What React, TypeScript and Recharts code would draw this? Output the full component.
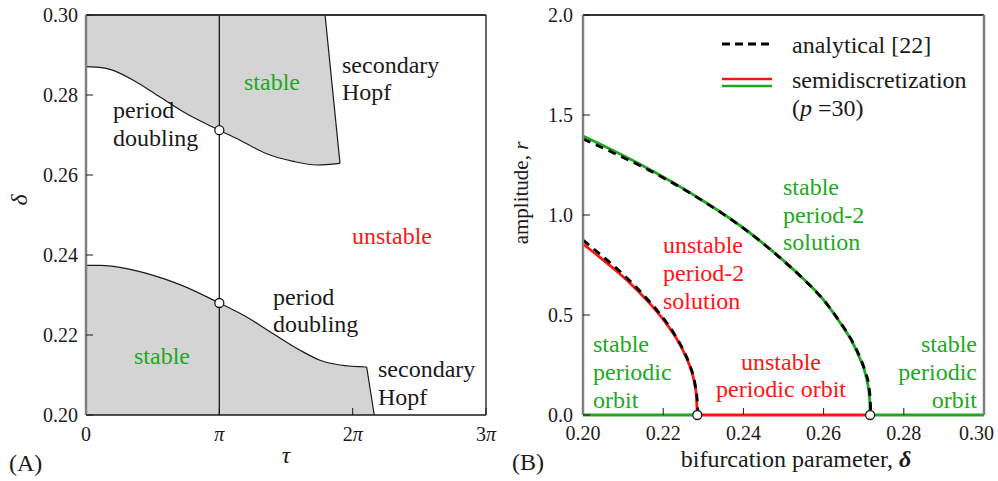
import { Area, ComposedChart, Line, ReferenceDot, ReferenceLine, XAxis, YAxis } from 'recharts'

const FONT = "'Liberation Serif', 'DejaVu Serif', serif"
const GREEN = '#1ea81e'
const RED = '#ff1414'
const GRAY_FILL = '#d4d4d4'
const AXIS_GRAY = '#7f7f7f'
const INK = '#1a1a1a'

// ---- panel A: stability chart in the (tau, delta) plane, tau in units of pi
const tauTicks = [0, 1, 2, 3]
const deltaTicks = [0.2, 0.22, 0.24, 0.26, 0.28, 0.3]

const upperCurve = [
  { tau: 0, delta: 0.2871 }, { tau: 0.1, delta: 0.2869 }, { tau: 0.18, delta: 0.2864 },
  { tau: 0.355, delta: 0.2837 }, { tau: 0.555, delta: 0.2795 }, { tau: 0.755, delta: 0.2753 },
  { tau: 1.0, delta: 0.2712 }, { tau: 1.155, delta: 0.2687 }, { tau: 1.355, delta: 0.2653 },
  { tau: 1.555, delta: 0.2634 }, { tau: 1.73, delta: 0.2625 }, { tau: 1.905, delta: 0.2629 },
]
const upperHopf = [{ tau: 1.905, delta: 0.2629 }, { tau: 1.793, delta: 0.3 }]
const upperRegion = [
  ...upperCurve.filter((p) => p.tau <= 1.73).map((p) => ({ tau: p.tau, band: [p.delta, 0.3] })),
  { tau: 1.793, band: [0.2626, 0.3] },
  { tau: 1.905, band: [0.2629, 0.2629] },
]

const lowerCurve = [
  { tau: 0, delta: 0.2374 }, { tau: 0.105, delta: 0.2374 }, { tau: 0.305, delta: 0.2366 },
  { tau: 0.505, delta: 0.2349 }, { tau: 0.705, delta: 0.2326 }, { tau: 1.0, delta: 0.228 },
  { tau: 1.205, delta: 0.2245 }, { tau: 1.405, delta: 0.2203 }, { tau: 1.605, delta: 0.2162 },
  { tau: 1.755, delta: 0.2137 }, { tau: 1.905, delta: 0.2125 }, { tau: 2.105, delta: 0.212 },
]
const lowerHopf = [{ tau: 2.105, delta: 0.212 }, { tau: 2.162, delta: 0.2 }]
const lowerRegion = [
  ...lowerCurve.map((p) => ({ tau: p.tau, band: [0.2, p.delta] })),
  { tau: 2.162, band: [0.2, 0.2] },
]
const periodDoublingPoints = [{ tau: 1, delta: 0.2712 }, { tau: 1, delta: 0.228 }]

// ---- panel B: bifurcation diagram, amplitude r vs delta
const deltaTicksB = [0.2, 0.22, 0.24, 0.26, 0.28, 0.3]
const rTicks = [0, 0.5, 1, 1.5, 2]

const unstableP2 = [
  { d: 0.2, r: 0.855 }, { d: 0.204, r: 0.792 }, { d: 0.208, r: 0.726 }, { d: 0.212, r: 0.654 },
  { d: 0.216, r: 0.572 }, { d: 0.22, r: 0.478 }, { d: 0.223, r: 0.392 }, { d: 0.225, r: 0.32 },
  { d: 0.2265, r: 0.252 }, { d: 0.2275, r: 0.188 }, { d: 0.228, r: 0.14 }, { d: 0.2283, r: 0.09 },
  { d: 0.2285, r: 0 },
]
const unstableP2Analytic = [
  { d: 0.2, r: 0.875 }, { d: 0.204, r: 0.808 }, { d: 0.208, r: 0.74 }, { d: 0.212, r: 0.665 },
  { d: 0.216, r: 0.58 }, { d: 0.22, r: 0.485 }, { d: 0.223, r: 0.398 }, { d: 0.225, r: 0.326 },
  { d: 0.2265, r: 0.258 }, { d: 0.2275, r: 0.195 }, { d: 0.228, r: 0.148 }, { d: 0.2284, r: 0.095 },
  { d: 0.2287, r: 0 },
]
const stableP2 = [
  { d: 0.2, r: 1.395 }, { d: 0.205, r: 1.347 }, { d: 0.21, r: 1.297 }, { d: 0.215, r: 1.245 },
  { d: 0.22, r: 1.19 }, { d: 0.225, r: 1.132 }, { d: 0.23, r: 1.07 }, { d: 0.235, r: 1.005 },
  { d: 0.24, r: 0.935 }, { d: 0.245, r: 0.857 }, { d: 0.25, r: 0.772 }, { d: 0.255, r: 0.68 },
  { d: 0.26, r: 0.575 }, { d: 0.264, r: 0.465 }, { d: 0.267, r: 0.37 }, { d: 0.269, r: 0.285 },
  { d: 0.2705, r: 0.2 }, { d: 0.2712, r: 0.13 }, { d: 0.2715, r: 0.075 }, { d: 0.2716, r: 0 },
]
const stableP2Analytic = [
  { d: 0.2, r: 1.38 }, { d: 0.205, r: 1.335 }, { d: 0.21, r: 1.288 }, { d: 0.215, r: 1.239 },
  { d: 0.22, r: 1.186 }, { d: 0.225, r: 1.13 }, { d: 0.23, r: 1.069 }, { d: 0.235, r: 1.004 },
  { d: 0.24, r: 0.934 }, { d: 0.245, r: 0.856 }, { d: 0.25, r: 0.771 }, { d: 0.255, r: 0.679 },
  { d: 0.26, r: 0.575 }, { d: 0.264, r: 0.467 }, { d: 0.267, r: 0.374 }, { d: 0.269, r: 0.292 },
  { d: 0.2705, r: 0.21 }, { d: 0.2713, r: 0.145 }, { d: 0.2716, r: 0.085 }, { d: 0.2718, r: 0 },
]
const stableOrbitLeft = [{ d: 0.2, r: 0 }, { d: 0.2285, r: 0 }]
const unstableOrbit = [{ d: 0.2285, r: 0 }, { d: 0.2716, r: 0 }]
const stableOrbitRight = [{ d: 0.2716, r: 0 }, { d: 0.3, r: 0 }]
const bifurcationPoints = [{ d: 0.2285, r: 0 }, { d: 0.2716, r: 0 }]

const txt = { fontFamily: FONT }
const TICK_FS = 20

function PiTick({ x, y, payload }: any) {
  const v = payload.value
  return (
    <text x={x} y={y} dy="0.78em" textAnchor="middle" style={txt} fontSize={TICK_FS} fill={INK}>
      {v === 0 ? '0' : (
        <>
          {v === 1 ? '' : String(v)}
          <tspan fontStyle="italic">π</tspan>
        </>
      )}
    </text>
  )
}

function NumTick({ x, y, payload, digits, side, last }: any) {
  const atEnd = side === 'bottom' && payload.value === last
  return (
    <text
      x={atEnd ? x + 10 : x} y={y} dy={side === 'left' ? '0.34em' : '0.78em'}
      textAnchor={side === 'left' || atEnd ? 'end' : 'middle'}
      style={txt} fontSize={TICK_FS} fill={INK}
    >
      {Number(payload.value).toFixed(digits)}
    </text>
  )
}

function Note({ x, y, lines, color = INK, anchor = 'start', gap = 28 }: any) {
  return (
    <text x={x} y={y} fill={color} style={txt} fontSize={24} textAnchor={anchor}>
      {lines.map((l: string, i: number) => (
        <tspan key={i} x={x} dy={i === 0 ? 0 : gap}>{l}</tspan>
      ))}
    </text>
  )
}

const frame = {
  tickSize: -7,
  interval: 0 as const,
  stroke: INK,
}

function PanelA() {
  return (
    <ComposedChart width={500} height={481} margin={{ top: 14, right: 13, bottom: 26, left: 26 }}>
      <XAxis
        type="number" dataKey="tau" domain={[0, 3]} ticks={tauTicks} {...frame}
        height={40} tickMargin={17} tick={<PiTick />}
        axisLine={{ stroke: INK, strokeWidth: 1.5 }}
      />
      <XAxis
        xAxisId="top" orientation="top" type="number" dataKey="tau" domain={[0, 3]} ticks={tauTicks}
        {...frame} height={1} tick={false} axisLine={{ stroke: '#333', strokeWidth: 2 }}
      />
      <YAxis
        type="number" domain={[0.2, 0.3]} ticks={deltaTicks} {...frame} width={60} tickMargin={15}
        tick={<NumTick digits={2} side="left" />} axisLine={{ stroke: AXIS_GRAY, strokeWidth: 2.5 }}
      />
      <YAxis
        yAxisId="right" orientation="right" type="number" domain={[0.2, 0.3]} ticks={deltaTicks}
        {...frame} width={1} tick={false} axisLine={{ stroke: INK, strokeWidth: 1.3 }}
      />
      <Area data={upperRegion} dataKey="band" type="linear" stroke="none" fill={GRAY_FILL} fillOpacity={1} isAnimationActive={false} />
      <Area data={lowerRegion} dataKey="band" type="linear" stroke="none" fill={GRAY_FILL} fillOpacity={1} isAnimationActive={false} />
      <Line data={upperCurve} dataKey="delta" type="monotone" stroke={INK} strokeWidth={1.2} dot={false} isAnimationActive={false} />
      <Line data={upperHopf} dataKey="delta" type="linear" stroke={INK} strokeWidth={1.2} dot={false} isAnimationActive={false} />
      <Line data={lowerCurve} dataKey="delta" type="monotone" stroke={INK} strokeWidth={1.2} dot={false} isAnimationActive={false} />
      <Line data={lowerHopf} dataKey="delta" type="linear" stroke={INK} strokeWidth={1.2} dot={false} isAnimationActive={false} />
      <ReferenceLine x={1} stroke={INK} strokeWidth={1.3} />
      {periodDoublingPoints.map((p, i) => (
        <ReferenceDot key={i} x={p.tau} y={p.delta} r={4.5} fill="#fff" stroke={INK} strokeWidth={1.3} />
      ))}
    </ComposedChart>
  )
}

function PanelB() {
  const line = (data: any[], color: string, key: string) => (
    <Line key={key} data={data} dataKey="r" type="monotone" stroke={color} strokeWidth={2.8} dot={false} isAnimationActive={false} />
  )
  const dashed = (data: any[], key: string) => (
    <Line key={key} data={data} dataKey="r" type="monotone" stroke="#000" strokeWidth={2.8} strokeDasharray="8 6" dot={false} isAnimationActive={false} />
  )
  return (
    <ComposedChart width={498} height={481} margin={{ top: 14, right: 13, bottom: 26, left: 23 }}>
      <XAxis
        type="number" dataKey="d" domain={[0.2, 0.3]} ticks={deltaTicksB} {...frame}
        height={40} tickMargin={16} tick={<NumTick digits={2} side="bottom" last={0.3} />}
        axisLine={false}
      />
      <XAxis
        xAxisId="top" orientation="top" type="number" dataKey="d" domain={[0.2, 0.3]} ticks={deltaTicksB}
        {...frame} height={1} tick={false} axisLine={{ stroke: '#333', strokeWidth: 2 }}
      />
      <YAxis
        type="number" domain={[0, 2]} ticks={rTicks} {...frame} width={60} tickMargin={17}
        tick={<NumTick digits={1} side="left" />} axisLine={{ stroke: AXIS_GRAY, strokeWidth: 2.5 }}
      />
      <YAxis
        yAxisId="right" orientation="right" type="number" domain={[0, 2]} ticks={rTicks}
        {...frame} width={1} tick={false} axisLine={{ stroke: AXIS_GRAY, strokeWidth: 2.5 }}
      />
      {line(stableOrbitLeft, GREEN, 'sl')}
      {line(unstableOrbit, RED, 'uo')}
      {line(stableOrbitRight, GREEN, 'sr')}
      {line(unstableP2, RED, 'u2')}
      {line(stableP2, GREEN, 's2')}
      {dashed(unstableP2Analytic, 'u2a')}
      {dashed(stableP2Analytic, 's2a')}
      {bifurcationPoints.map((p, i) => (
        <ReferenceDot key={i} x={p.d} y={p.r} r={4.5} fill="#fff" stroke={INK} strokeWidth={1.3} ifOverflow="visible" />
      ))}
    </ComposedChart>
  )
}

export default function App() {
  return (
    <div style={{ position: 'absolute', left: 0, top: 0, width: 998, height: 481, background: '#fff', fontFamily: FONT }}>
      <div style={{ position: 'absolute', left: 0, top: 0 }}><PanelA /></div>
      <div style={{ position: 'absolute', left: 500, top: 0 }}><PanelB /></div>
      <svg width={998} height={481} style={{ position: 'absolute', left: 0, top: 0, pointerEvents: 'none' }}>
        {/* panel A annotations */}
        <Note x={272} y={90} lines={['stable']} color={GREEN} anchor="middle" />
        <Note x={113} y={118} lines={['period', 'doubling']} gap={27.5} />
        <Note x={342} y={73} lines={['secondary', 'Hopf']} gap={27} />
        <Note x={352} y={244} lines={['unstable']} color={RED} />
        <Note x={273} y={305} lines={['period', 'doubling']} gap={27} />
        <Note x={134} y={364} lines={['stable']} color={GREEN} />
        <Note x={378} y={377} lines={['secondary', 'Hopf']} gap={28} />
        <Note x={9} y={471} lines={['(A)']} />
        <text x={286} y={463} textAnchor="middle" style={txt} fontSize={24} fontStyle="italic" fill={INK}>τ</text>
        <text x={27} y={200} textAnchor="middle" style={txt} fontSize={24} fontStyle="italic" fill={INK} transform="rotate(-90 27 200)">δ</text>

        {/* panel B legend */}
        <line x1={722} x2={772} y1={44} y2={44} stroke="#000" strokeWidth={2.8} strokeDasharray="8 5" />
        <line x1={722} x2={772} y1={79} y2={79} stroke={RED} strokeWidth={2.6} />
        <line x1={722} x2={772} y1={86} y2={86} stroke={GREEN} strokeWidth={2.6} />
        <Note x={792} y={53} lines={['analytical [22]']} />
        <Note x={792} y={88} lines={['semidiscretization']} />
        <text x={792} y={116} style={txt} fontSize={24} fill={INK}>
          (<tspan fontStyle="italic">p</tspan> =30)
        </text>

        {/* panel B annotations */}
        <Note x={783} y={195} lines={['stable', 'period-2', 'solution']} color={GREEN} gap={27.5} />
        <Note x={663} y={253} lines={['unstable', 'period-2', 'solution']} color={RED} gap={27.8} />
        <Note x={593} y={352} lines={['stable', 'periodic', 'orbit']} color={GREEN} gap={28} />
        <Note x={781} y={370} lines={['unstable', 'periodic orbit']} color={RED} anchor="middle" gap={27} />
        <Note x={977} y={352} lines={['stable', 'periodic', 'orbit']} color={GREEN} anchor="end" gap={28} />
        <Note x={512} y={470} lines={['(B)']} />
        <text x={796} y={467} textAnchor="middle" style={txt} fontSize={24} fill={INK}>
          bifurcation parameter, <tspan fontStyle="italic" fontWeight="bold">δ</tspan>
        </text>
        <text x={528} y={193} textAnchor="middle" style={txt} fontSize={21} fill={INK} transform="rotate(-90 528 193)">
          amplitude, <tspan fontStyle="italic">r</tspan>
        </text>
      </svg>
    </div>
  )
}
